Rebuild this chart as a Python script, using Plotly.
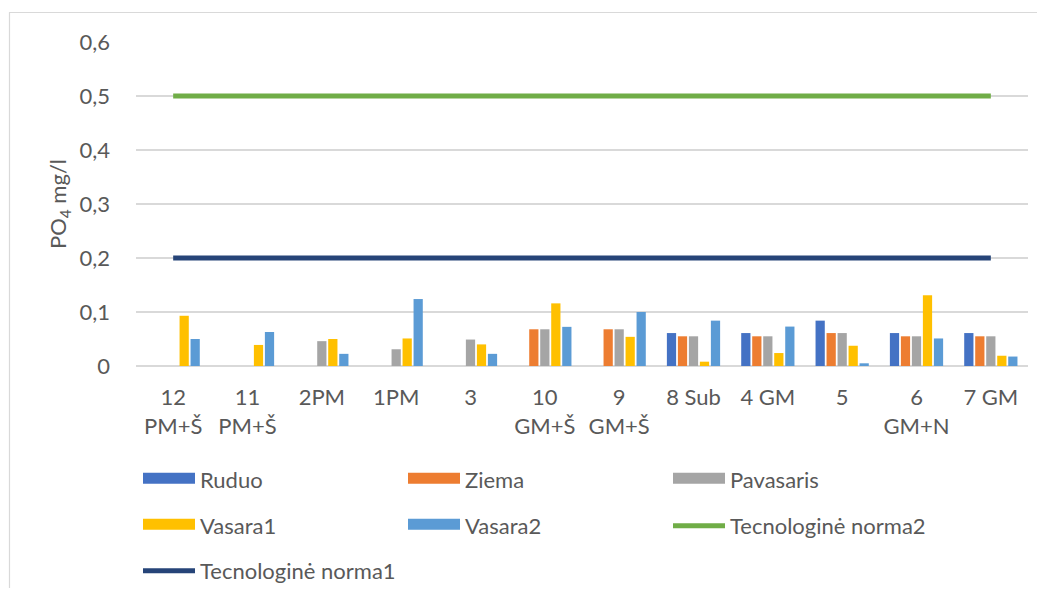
import plotly.graph_objects as go

categories = ["12<br>PM+Š", "11<br>PM+Š", "2PM", "1PM", "3", "10<br>GM+Š",
              "9<br>GM+Š", "8 Sub", "4 GM", "5", "6<br>GM+N", "7 GM"]

ruduo     = [None, None, None, None, None, None, None, 0.061, 0.061, 0.084, 0.061, 0.061]
ziema     = [None, None, None, None, None, 0.068, 0.068, 0.055, 0.055, 0.061, 0.055, 0.055]
pavasaris = [None, None, 0.046, 0.031, 0.049, 0.068, 0.068, 0.055, 0.055, 0.061, 0.055, 0.055]
vasara1   = [0.093, 0.039, 0.050, 0.051, 0.040, 0.116, 0.054, 0.008, 0.024, 0.0375, 0.131, 0.019]
vasara2   = [0.050, 0.063, 0.0225, 0.124, 0.0225, 0.0725, 0.100, 0.084, 0.073, 0.005, 0.051, 0.0175]
norma2    = [0.5] * 12
norma1    = [0.2] * 12

y_tickvals = [0, 0.1, 0.2, 0.3, 0.4, 0.5, 0.6]
y_ticktext = ["0", "0,1", "0,2", "0,3", "0,4", "0,5", "0,6"]

bar_series = [
    ("Ruduo", ruduo, "#4472C4"),
    ("Ziema", ziema, "#ED7D31"),
    ("Pavasaris", pavasaris, "#A5A5A5"),
    ("Vasara1", vasara1, "#FFC000"),
    ("Vasara2", vasara2, "#5B9BD5"),
]
line_series = [
    ("Tecnologinė norma2", norma2, "#70AD47"),
    ("Tecnologinė norma1", norma1, "#264478"),
]

legend_of = {"Ruduo": "legend", "Ziema": "legend", "Pavasaris": "legend",
             "Vasara1": "legend2", "Vasara2": "legend2", "Tecnologinė norma2": "legend2",
             "Tecnologinė norma1": "legend3"}

FONT = "Lato, 'Open Sans', sans-serif"
GRAY = "#595959"
FS = 22

fig = go.Figure()
for name, vals, col in bar_series:
    fig.add_trace(go.Bar(x=categories, y=vals, name=name, marker_color=col,
                         marker_line_width=0, showlegend=False))
for name, vals, col in line_series:
    fig.add_trace(go.Scatter(x=categories, y=vals, name=name, mode="lines",
                             line=dict(color=col, width=5), showlegend=False))

# legend proxies (wide rectangle swatches like the original)
for name, vals, col in bar_series:
    fig.add_trace(go.Scatter(x=[None], y=[None], name=name, mode="lines",
                             fill="toself", fillcolor=col,
                             line=dict(color=col, width=10), legend=legend_of[name]))
for name, vals, col in line_series:
    fig.add_trace(go.Scatter(x=[None], y=[None], name=name, mode="lines",
                             line=dict(color=col, width=5), legend=legend_of[name]))

# page body has an 8px margin on every side -> figure coords = screen - 8
OFF = 8
W, H = 1045 - 2 * OFF, 596 - 2 * OFF
L, T = 136 - OFF, 42 - OFF
R = W - (1028 - OFF)
B = H - (366 - OFF)
pw, ph = W - L - R, H - T - B

def px(sx):
    return (sx - OFF - L) / pw

def py(sy):
    return (H - B - (sy - OFF)) / ph

leg_common = dict(orientation="h", x=px(138), xanchor="left", yanchor="middle",
                  entrywidth=198, entrywidthmode="pixels",
                  font=dict(family=FONT, size=FS, color=GRAY),
                  bgcolor="rgba(0,0,0,0)", itemwidth=52, traceorder="normal")

fig.update_layout(
    width=W, height=H,
    margin=dict(l=L, r=R, t=T, b=B, autoexpand=False),
    paper_bgcolor="white", plot_bgcolor="white",
    barmode="group", bargap=0.26, bargroupgap=0.16,
    font=dict(family=FONT, size=FS, color=GRAY),
    legend=dict(y=py(480), **leg_common),
    legend2=dict(y=py(526), **leg_common),
    legend3=dict(y=py(571), **leg_common),
    xaxis=dict(showgrid=False, showline=False, ticks="", zeroline=False,
               tickfont=dict(family=FONT, size=FS, color=GRAY), ticklabelstandoff=16),
    yaxis=dict(range=[0, 0.6], tickvals=y_tickvals, ticktext=y_ticktext,
               showgrid=True, gridcolor="#D9D9D9", gridwidth=1.5,
               zeroline=True, zerolinecolor="#D9D9D9", zerolinewidth=1.5,
               showline=False, ticks="", ticklabelstandoff=25,
               tickfont=dict(family=FONT, size=FS, color=GRAY),
               title=dict(text="PO<sub>4</sub> mg/l", standoff=6,
                          font=dict(family=FONT, size=FS, color=GRAY))),
    shapes=[dict(type="rect", xref="paper", yref="paper",
                 x0=px(9.5), x1=px(1060), y0=py(610), y1=py(12.5),
                 line=dict(color="#D9D9D9", width=1.2), layer="below")],
)

fig.write_html("out.html")
